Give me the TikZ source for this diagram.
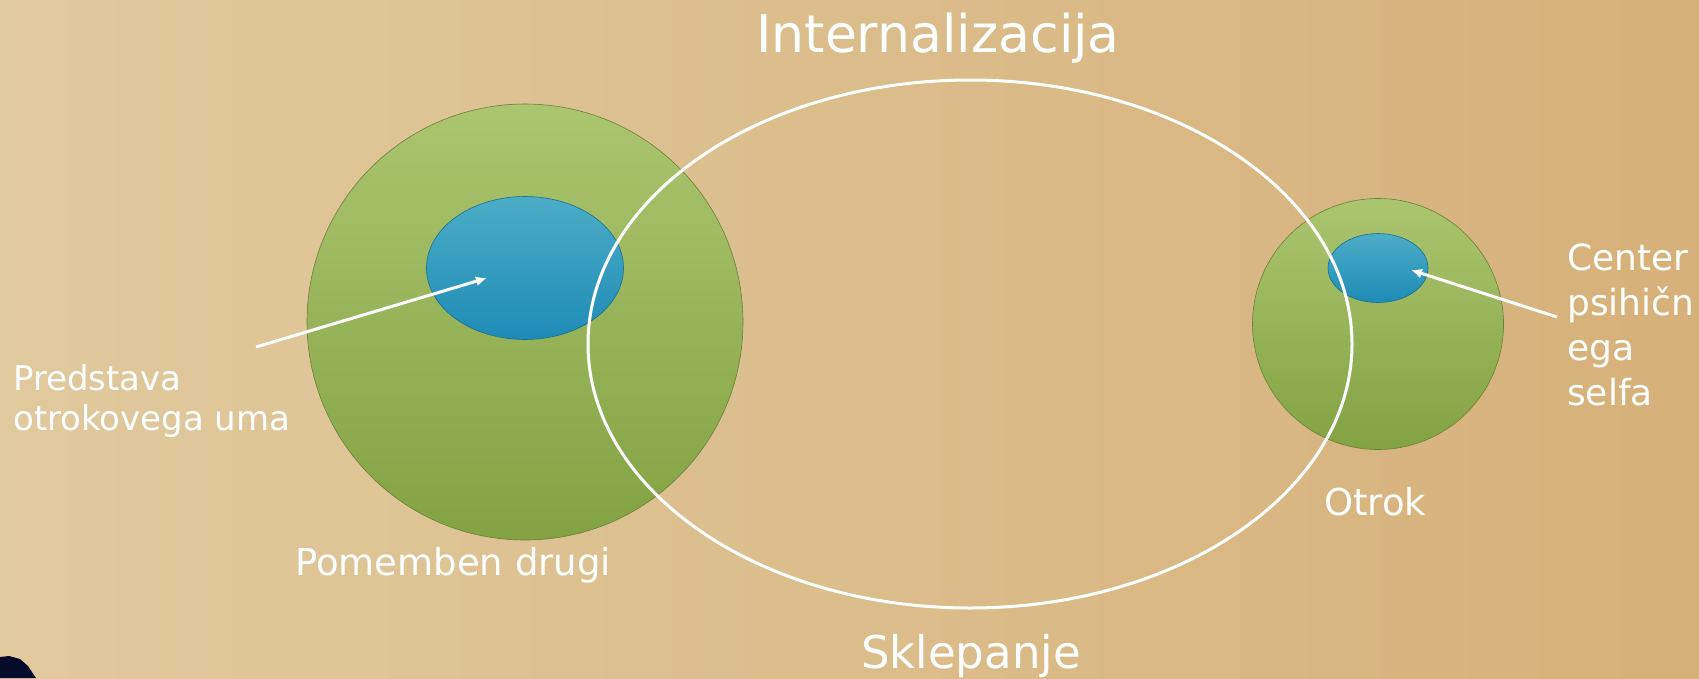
\documentclass[tikz,border=0pt]{standalone}
\usepackage{fontspec}
\setmainfont{DejaVu Sans}
\usetikzlibrary{arrows.meta}
\usetikzlibrary{calc,shapes}

\definecolor{fondG}{RGB}{225,201,158}
\definecolor{fondD}{RGB}{214,177,121}
\definecolor{vertH}{RGB}{172,197,111}
\definecolor{vertB}{RGB}{131,162,67}
\definecolor{bleuH}{RGB}{76,173,199}
\definecolor{bleuB}{RGB}{30,139,183}
\definecolor{nuit}{RGB}{6,10,42}

\tikzset{
  krog/.style={circle,inner sep=0pt,draw=vertB!80!black,line width=0.6pt,top color=vertH,bottom color=vertB},
  jedro/.style={ellipse,inner sep=0pt,draw=bleuB!80!black,line width=0.6pt,top color=bleuH,bottom color=bleuB},
  napis/.style={text=white,inner sep=0pt},
  puscica/.style={white,line width=3pt,-{Latex[length=11pt,width=10pt]}}
}

\begin{document}
\begin{tikzpicture}[x=1pt,y=-1pt]
				\clip (0,0) rectangle (1699,678);
				\shade [left color=fondG,right color=fondD] (0,0) rectangle (1699,678);
				\fill [nuit] (0,657) -- (9,656) -- (20,659) -- (28,666) -- (36,678) -- (0,678) -- cycle;
				% Krogi
				\node [krog,minimum size=436pt] (drugi) at (525,322) {};
				\node [jedro,minimum width=197pt,minimum height=143pt] (drugiJ) at (525,268) {};
				\node [krog,minimum size=251pt] (otrok) at (1378,324) {};
				\node [jedro,minimum width=100pt,minimum height=69pt] (otrokJ) at (1378,268) {};
				\draw [white,line width=3pt] (970,344) ellipse [x radius=382,y radius=264];
				% Napisi
				\node [napis,anchor=base,font=\fontsize{52}{60}\selectfont] (inter) at (938,52) {Internalizacija};
				\node [napis,anchor=base,font=\fontsize{45}{54}\selectfont] (sklep) at (971,668) {Sklepanje};
				\node [napis,anchor=base west,font=\fontsize{37}{44}\selectfont] (drugiN) at (295,575) {Pomemben drugi};
				\node [napis,anchor=base west,font=\fontsize{37}{44}\selectfont] (otrokN) at (1324,515) {Otrok};
				\node [napis,anchor=base west,align=left,font=\fontsize{34}{40}\selectfont] (pred) at (13,430) {Predstava\\otrokovega uma};
				\node [napis,anchor=base west,align=left,font=\fontsize{36}{45}\selectfont] (center) at (1567,405) {Center\\psihičn\\ega\\selfa};
				% Puščici
				\coordinate (predZ) at (256,347);
				\coordinate (predK) at (487,278);
				\coordinate (centerZ) at (1557,317);
				\coordinate (centerK) at (1411,270);
				\draw [puscica] (predZ) -- (predK);
				\draw [puscica] (centerZ) -- (centerK);
\end{tikzpicture}
\end{document}
